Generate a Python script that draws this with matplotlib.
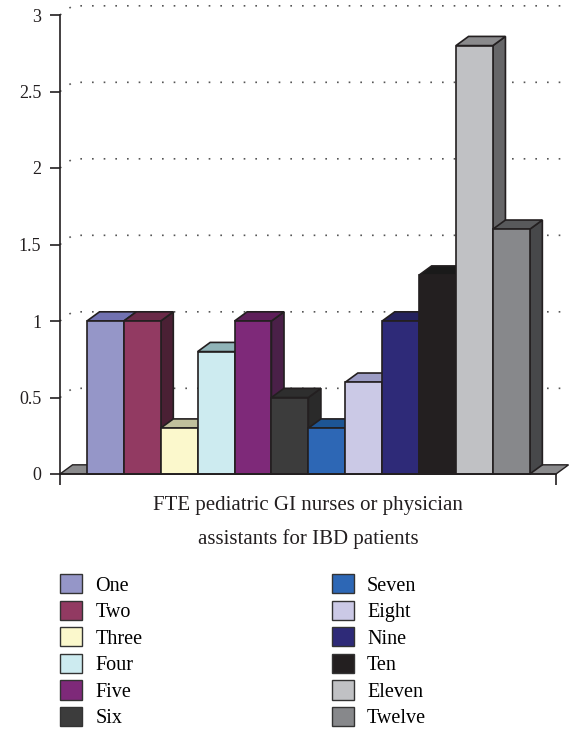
import numpy as np
import matplotlib
matplotlib.use("Agg")
import matplotlib.pyplot as plt
from matplotlib.patches import Polygon, Patch

plt.rcParams['font.family'] = ['Liberation Serif', 'DejaVu Serif']

labels = ['One', 'Two', 'Three', 'Four', 'Five', 'Six',
          'Seven', 'Eight', 'Nine', 'Ten', 'Eleven', 'Twelve']
values = [1, 1, 0.3, 0.8, 1, 0.5, 0.3, 0.6, 1, 1.3, 2.8, 1.6]
front_colors = ['#9596c8', '#923a62', '#fbf8cc', '#cdebf0', '#7e2979', '#3c3c3c',
                '#2d67b5', '#cbc9e6', '#2e2a78', '#231f20', '#c0c1c4', '#87888b']
top_colors = ['#7171b0', '#6a2a48', '#c0c09c', '#90b4b8', '#5e1f5a', '#2e2e2e',
              '#1d5594', '#9c9cc4', '#25225e', '#1a1a1a', '#8a8a8c', '#58595b']
side_colors = ['#4f4f80', '#4a2034', '#8c8c70', '#6a8a8e', '#4a2048', '#2a2a2a',
               '#164070', '#7a7aa0', '#1c1a48', '#141414', '#666668', '#47484a']
yticks = [0, 0.5, 1, 1.5, 2, 2.5, 3]
xlabel = 'FTE pediatric GI nurses or physician\nassistants for IBD patients'

xmax = 13.44
x0 = 0.73
dx, dy = 0.34, 0.06
edge = '#231f20'

fig = plt.figure(figsize=(5.7, 7.31), dpi=100)
ax = fig.add_axes([60 / 570, 1 - 474 / 731, 496 / 570, 459 / 731])
ax.set_xlim(0, xmax)
ax.set_ylim(0, 3)

# back wall gridlines
for v in yticks[1:]:
    ax.plot([0, dx, xmax + dx], [v, v + dy, v + dy], color='#555555', lw=1.2,
            dashes=(1, 6), clip_on=False, zorder=1)

# floor
ax.add_patch(Polygon([(0, 0), (dx, dy), (xmax + dx, dy), (xmax, 0)], closed=True,
                     facecolor='#8a8a8c', edgecolor=edge, lw=1.0, clip_on=False, zorder=2))

for i, v in enumerate(values):
    xl = x0 + i
    xr = xl + 1
    side = Polygon([(xr, 0), (xr + dx, dy), (xr + dx, v + dy), (xr, v)], closed=True,
                   facecolor=side_colors[i], edgecolor=edge, lw=1.2, clip_on=False,
                   zorder=3 + i)
    top = Polygon([(xl, v), (xl + dx, v + dy), (xr + dx, v + dy), (xr, v)], closed=True,
                  facecolor=top_colors[i], edgecolor=edge, lw=1.2, clip_on=False,
                  zorder=3 + i)
    ax.add_patch(side)
    ax.add_patch(top)
    ax.bar(xl, v, width=1, align='edge', color=front_colors[i], edgecolor=edge,
           lw=1.2, zorder=3 + i, clip_on=False)

for s in ['top', 'right']:
    ax.spines[s].set_visible(False)
for s in ['left', 'bottom']:
    ax.spines[s].set_linewidth(1.2)
    ax.spines[s].set_color('#231f20')
    ax.spines[s].set_zorder(20)

ax.set_yticks(yticks)
ax.set_yticklabels(['0', '0.5', '1', '1.5', '2', '2.5', '3'])
ax.tick_params(axis='y', direction='out', length=7.5, width=1.2, labelsize=13, pad=6,
               colors='#231f20')
ax.set_xticks([0, xmax])
ax.set_xticklabels(['', ''])
ax.tick_params(axis='x', direction='out', length=8, width=1.2, colors='#231f20')
ax.set_xlabel(xlabel, fontsize=15, linespacing=1.95, labelpad=4, color='#231f20')

handles = [Patch(facecolor=c, edgecolor='#333333', lw=1.0) for c in front_colors]
fig.legend(handles, labels, ncol=2, loc='upper left', bbox_to_anchor=(52 / 570, 1 - 566 / 731),
           frameon=False, fontsize=14.5, handlelength=1.1, handleheight=1.1,
           handletextpad=0.65, labelspacing=0.25, columnspacing=9.4, borderaxespad=0)

fig.savefig('out.png', dpi=100)
